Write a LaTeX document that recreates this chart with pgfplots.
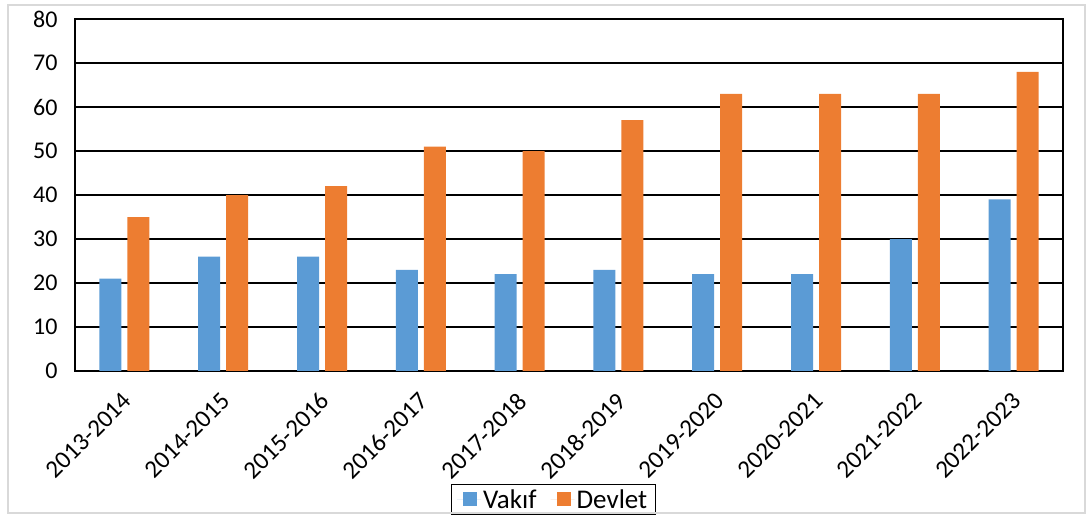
\documentclass[border=0pt]{standalone}
\usepackage{pgfplots}
\pgfplotsset{compat=1.18}
\usepackage{fontspec}
\setmainfont{Carlito}
\definecolor{vblue}{HTML}{5B9BD5}
\definecolor{dorange}{HTML}{ED7D31}
\begin{document}
\begin{tikzpicture}
\begin{axis}[
  name=ax,
  at={(0,0)}, anchor=south west,
  scale only axis,
  width=988pt, height=352pt,
  ybar=6pt, bar width=22pt,
  xmin=-0.5, xmax=9.5,
  ymin=0, ymax=80,
  ytick={0,10,...,80},
  xtick={0,...,9},
  xticklabels={2013-2014,2014-2015,2015-2016,2016-2017,2017-2018,2018-2019,2019-2020,2020-2021,2021-2022,2022-2023},
  major tick length=0pt,
  ymajorgrids,
  grid style={black, line width=1.6pt},
  axis line style={black, line width=1.6pt},
  tick label style={font=\fontsize{24}{26}\selectfont},
  /pgf/number format/assume math mode=true,
  yticklabel style={xshift=-14pt},
  xticklabel style={xshift=-3pt, yshift=-15pt, rotate=45, anchor=north east, font=\fontsize{25}{27}\selectfont},
  legend style={at={(0.484,-0.365)}, anchor=center, draw=black, line width=1.2pt,
    font=\fontsize{27}{29}\selectfont, legend columns=2,
    /tikz/every even column/.append style={column sep=12pt}, inner xsep=6pt, inner ysep=3pt},
  legend image code/.code={\fill[#1] (0pt,-7pt) rectangle (14pt,7pt); \path (-6pt,0pt) -- (18pt,0pt);},
]
\addplot[draw=none, fill=vblue] coordinates {(0,21) (1,26) (2,26) (3,23) (4,22) (5,23) (6,22) (7,22) (8,30) (9,39)};
\addplot[draw=none, fill=dorange] coordinates {(0,35) (1,40) (2,42) (3,51) (4,50) (5,57) (6,63) (7,63) (8,63) (9,68)};
\legend{Vakıf, Devlet}
\end{axis}
\draw[black!15, line width=2pt] (-67pt,-142pt) rectangle (1010pt,366pt);
\pgfresetboundingbox
\useasboundingbox (-75pt,-147pt) rectangle (1016pt,371pt);
\end{tikzpicture}
\end{document}
